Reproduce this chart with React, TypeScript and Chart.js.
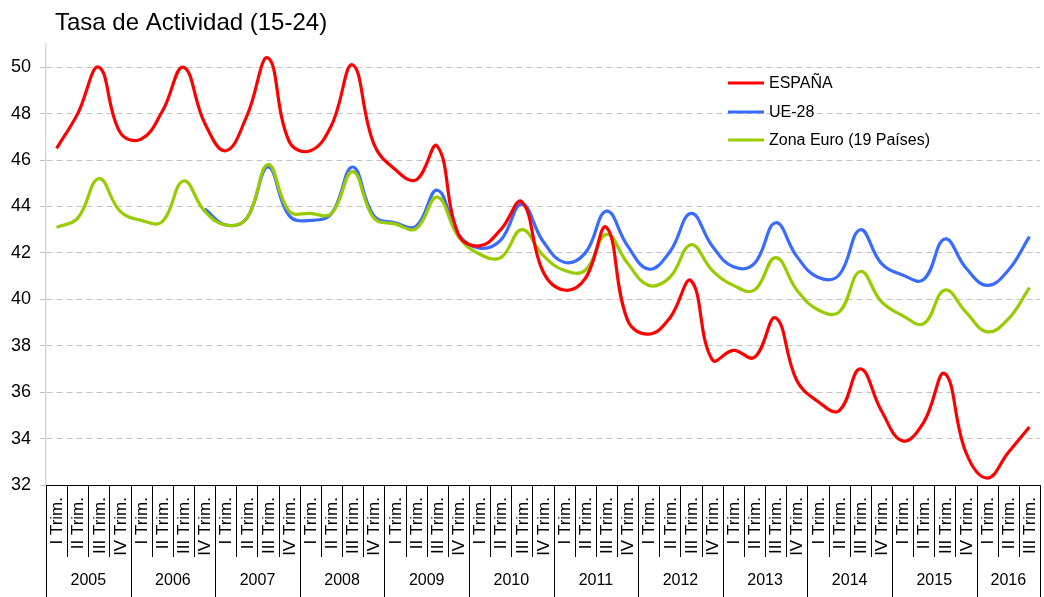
import React, { useEffect, useRef } from "react";
import { Chart, registerables } from "chart.js";

Chart.register(...registerables);

const TITLE = "Tasa de Actividad (15-24)";
const YEARS = ["2005", "2006", "2007", "2008", "2009", "2010", "2011", "2012", "2013", "2014", "2015", "2016"];
const QUARTERS_PER_YEAR = [4, 4, 4, 4, 4, 4, 4, 4, 4, 4, 4, 3];
const QUARTER_NAMES = ["I Trim.", "II Trim.", "III Trim.", "IV Trim."];

const ESPANA = [
  46.5, 48.0, 50.0, 47.2, 46.9, 48.1, 50.0, 47.6, 46.4, 47.9, 50.4, 46.8, 46.4, 47.5, 50.1, 46.7,
  45.6, 45.15, 46.6, 42.8, 42.3, 43.0, 44.2, 41.2, 40.4, 40.9, 43.1, 39.1, 38.5, 39.2, 40.8, 37.4,
  37.8, 37.5, 39.2, 36.5, 35.6, 35.2, 37.0, 35.2, 33.9, 34.7, 36.8, 33.4, 32.3, 33.4, 34.5,
];
const UE28 = [
  null, null, null, null, null, null, null,
  43.9, 43.2, 43.5, 45.7, 43.6, 43.4, 43.7, 45.7, 43.6, 43.3, 43.15, 44.7, 42.8, 42.2, 42.55,
  44.1, 42.5, 41.6, 42.0, 43.8, 42.3, 41.3, 42.05, 43.7, 42.3, 41.4, 41.55, 43.3, 41.85, 40.95,
  41.05, 43.0, 41.55, 41.05, 40.85, 42.6, 41.35, 40.6, 41.25, 42.7,
];
const ZONA_EURO = [
  43.1, 43.5, 45.2, 43.8, 43.4, 43.35, 45.1, 43.8, 43.2, 43.5, 45.8, 43.8, 43.7, 43.7, 45.5, 43.5,
  43.25, 43.05, 44.4, 42.7, 41.95, 41.8, 43.0, 41.9, 41.25, 41.25, 42.8, 41.55, 40.6, 40.95, 42.35,
  41.25, 40.6, 40.4, 41.8, 40.4, 39.55, 39.45, 41.2, 39.9, 39.3, 38.95, 40.4, 39.45, 38.6, 39.15, 40.5,
];

const SERIES_NAMES = ["ESPAÑA", "UE-28", "Zona Euro (19 Países)"];
const SERIES_COLORS = ["#FF0000", "#3A6BFF", "#99CC00"];

const Y_MIN = 32;
const Y_MAX = 51;
const Y_STEP = 2;

const FONT = "'Liberation Sans', Arial, sans-serif";

// Build category list
const CATEGORIES: { year: string; q: string }[] = [];
YEARS.forEach((y, yi) => {
  for (let q = 0; q < QUARTERS_PER_YEAR[yi]; q++) CATEGORIES.push({ year: y, q: QUARTER_NAMES[q] });
});
const LABELS = CATEGORIES.map((c) => `${c.q} ${c.year}`);

const decorPlugin = {
  id: "decor",
  afterDraw(chart: any) {
    const ctx = chart.ctx as CanvasRenderingContext2D;
    const xs = chart.scales.x;
    const area = chart.chartArea;
    const n = CATEGORIES.length;
    const w = (area.right - area.left) / n;
    const H = chart.height;
    ctx.save();

    // Title
    ctx.fillStyle = "#000";
    ctx.font = `24px ${FONT}`;
    ctx.textAlign = "left";
    ctx.textBaseline = "alphabetic";
    ctx.fillText(TITLE, 55, 30);

    // Quarter separators and labels
    ctx.strokeStyle = "#000";
    ctx.lineWidth = 1;
    const yearStarts: number[] = [];
    let acc = 0;
    QUARTERS_PER_YEAR.forEach((c) => {
      yearStarts.push(acc);
      acc += c;
    });
    yearStarts.push(acc);
    for (let i = 0; i <= n; i++) {
      const x = Math.round(area.left + i * w) + 0.5;
      const isYear = yearStarts.includes(i);
      ctx.beginPath();
      ctx.moveTo(x, area.bottom);
      ctx.lineTo(x, isYear ? H : area.bottom + 72);
      ctx.stroke();
    }
    ctx.fillStyle = "#000";
    ctx.font = `17px ${FONT}`;
    for (let i = 0; i < n; i++) {
      const cx = xs.getPixelForValue(i);
      ctx.save();
      ctx.translate(cx + 1, area.bottom + 12);
      ctx.rotate(-Math.PI / 2);
      ctx.textAlign = "right";
      ctx.textBaseline = "middle";
      ctx.fillText(CATEGORIES[i].q, 0, 0);
      ctx.restore();
    }
    // Year labels
    ctx.font = `16px ${FONT}`;
    ctx.textAlign = "center";
    ctx.textBaseline = "middle";
    YEARS.forEach((y, yi) => {
      const a = yearStarts[yi];
      const b = yearStarts[yi + 1];
      const cx = area.left + ((a + b) / 2) * w;
      ctx.fillText(y, cx, 581);
    });

    // Legend
    const lx = 728;
    const rows = [83, 112, 140];
    [0, 1, 2].forEach((k) => {
      ctx.strokeStyle = SERIES_COLORS[k];
      ctx.lineWidth = 3;
      ctx.beginPath();
      ctx.moveTo(lx, rows[k]);
      ctx.lineTo(lx + 36, rows[k]);
      ctx.stroke();
      ctx.fillStyle = "#000";
      ctx.font = `16px ${FONT}`;
      ctx.textAlign = "left";
      ctx.textBaseline = "middle";
      ctx.fillText(SERIES_NAMES[k], lx + 41, rows[k] + 1);
    });
    ctx.restore();
  },
};

export default function App() {
  const ref = useRef<HTMLCanvasElement | null>(null);
  useEffect(() => {
    if (!ref.current) return;
    const data = [ESPANA, UE28, ZONA_EURO];
    const orders = [0, 2, 1];
    const chart = new Chart(ref.current, {
      type: "line",
      data: {
        labels: LABELS,
        datasets: data.map((d, k) => ({
          label: SERIES_NAMES[k],
          data: d as (number | null)[],
          borderColor: SERIES_COLORS[k],
          backgroundColor: SERIES_COLORS[k],
          borderWidth: 3.2,
          pointRadius: 0,
          pointHoverRadius: 0,
          tension: 0.42,
          fill: false,
          order: orders[k],
        })),
      },
      options: {
        responsive: false,
        animation: false,
        events: [],
        layout: { padding: { left: 0, right: 4, top: 44, bottom: 0 } },
        plugins: {
          legend: { display: false },
          title: { display: false },
          tooltip: { enabled: false },
        },
        scales: {
          x: {
            type: "category",
            offset: true,
            grid: { display: false },
            ticks: { display: false },
            border: { display: true, color: "#000", width: 1 },
            afterFit: (s: any) => {
              s.height = 112;
            },
          },
          y: {
            min: Y_MIN,
            max: Y_MAX,
            ticks: {
              stepSize: Y_STEP,
              color: "#000",
              font: { family: FONT, size: 18 },
              padding: 9,
            },
            afterBuildTicks: (s: any) => {
              s.ticks = s.ticks.filter((t: any) => t.value % Y_STEP === 0);
            },
            grid: {
              color: "#C4C4C4",
              lineWidth: 1,
              tickLength: 6,
              tickColor: "#C4C4C4",
            },
            border: { display: true, color: "#D9D9D9", width: 1.5, dash: [6, 4] },
            afterFit: (s: any) => {
              s.width = 46;
            },
          },
        },
      },
      plugins: [decorPlugin],
    });
    return () => chart.destroy();
  }, []);
  return (
    <div style={{ position: "absolute", left: 0, top: 0, width: 1044, height: 597, background: "#fff" }}>
      <canvas ref={ref} width={1044} height={597} style={{ display: "block" }} />
    </div>
  );
}
